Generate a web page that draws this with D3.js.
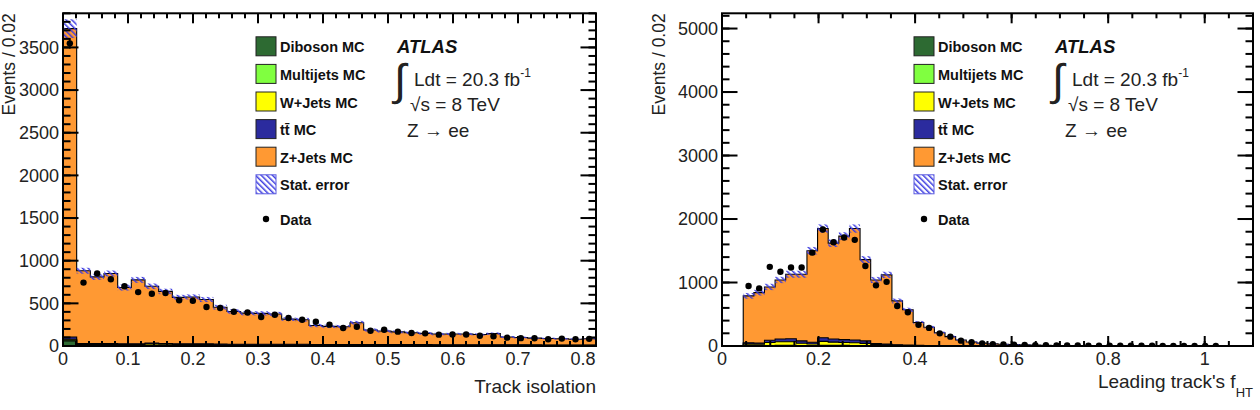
<!DOCTYPE html>
<html><head><meta charset="utf-8">
<script src="https://cdn.jsdelivr.net/npm/d3@7"></script>
<style>
body{margin:0;background:#fff}
svg{display:block}
text{font-family:"Liberation Sans",Arial,Helvetica,sans-serif}
</style>
</head><body>
<svg id="c" width="1260" height="410"></svg>
<script>
// ---------------- DATA ----------------
// Left panel: Track isolation, 39 bins over [0, 0.82]
const isoRange = [0, 0.82];
const isoNBins = 39;
const isoXTicks = [0, 0.1, 0.2, 0.3, 0.4, 0.5, 0.6, 0.7, 0.8];
const isoYTicks = [0, 500, 1000, 1500, 2000, 2500, 3000, 3500];
const isoDiboson  = [60,5,5,5,5,5,5,5,5,5,5,4,4,4,4,4,4,4,4,4,4,3,3,3,3,3,3,3,3,3,3,3,3,3,3,2,2,2,2];
const isoMultijet = [10,3,3,3,3,3,3,3,3,3,3,2,2,2,2,2,2,2,2,2,2,2,2,2,2,2,2,2,2,2,2,2,2,2,2,1,1,1,1];
const isoWjets    = [10,8,8,8,8,8,15,12,8,8,8,6,6,6,6,6,6,6,5,5,5,5,5,5,5,5,5,5,4,4,4,4,4,4,4,4,4,4,4];
const isoTtbar    = [25,12,12,12,11,11,11,10,10,10,10,10,9,9,9,8,8,8,7,7,7,6,6,6,6,6,6,5,5,5,5,5,5,5,4,4,4,4,4];
const isoZjets    = [3615,854,782,822,658,748,666,610,544,549,519,433,384,364,362,355,295,288,222,212,208,257,171,159,149,139,132,125,126,126,121,131,91,86,79,77,74,69,74];
const isoStatErr  = [110,35,35,35,35,35,33,32,30,30,30,28,26,25,25,25,22,22,20,20,20,22,18,17,16,15,15,14,14,14,13,14,12,11,11,10,10,10,10];
const isoData     = [3548,743,849,783,701,632,613,621,535,531,457,445,402,392,340,367,328,308,285,250,211,226,179,191,168,152,148,133,135,134,121,115,98,92,90,80,87,79,84];

// Right panel: Leading track's f_HT, 50 bins over [0, 1.1]
const fhtRange = [0, 1.1];
const fhtNBins = 50;
const fhtXTicks = [0, 0.2, 0.4, 0.6, 0.8, 1];
const fhtYTicks = [0, 1000, 2000, 3000, 4000, 5000];
const fhtDiboson  = [0,0,3,3,5,6,6,5,4,7,6,6,5,4,3,2,2,1,1,0,0,0,0,0,0,0,0,0,0,0,0,0,0,0,0,0,0,0,0,0,0,0,0,0,0,0,0,0,0,0];
const fhtMultijet = [0,0,2,2,4,5,5,3,3,6,5,5,4,3,2,2,1,1,1,0,0,0,0,0,0,0,0,0,0,0,0,0,0,0,0,0,0,0,0,0,0,0,0,0,0,0,0,0,0,0];
const fhtWjets    = [0,0,25,22,45,55,55,35,25,60,50,45,42,35,18,12,8,6,4,0,0,0,0,0,0,0,0,0,0,0,0,0,0,0,0,0,0,0,0,0,0,0,0,0,0,0,0,0,0,0];
const fhtTtbar    = [0,0,20,18,36,44,49,37,28,57,49,44,44,38,17,14,9,7,4,0,0,0,0,0,0,0,0,0,0,0,0,0,0,0,0,0,0,0,0,0,0,0,0,0,0,0,0,0,0,0];
const fhtZjets    = [0,0,740,795,840,930,1015,1050,1440,1720,1510,1630,1755,1280,1000,1090,690,555,360,295,208,148,94,64,45,34,27,21,17,14,11,9,8,7,6,5,4,3,3,2,2,1,1,1,1,0,0,0,0,0];
const fhtStatErr  = [0,0,45,45,50,50,55,55,60,65,60,62,65,55,48,50,38,33,25,22,18,15,12,10,8,7,6,5,5,4,4,3,3,3,3,2,2,2,2,2,2,1,1,1,1,0,0,0,0,0];
const fhtData     = [0,0,945,907,1247,1169,1237,1237,1470,1834,1635,1709,1672,1260,955,1010,629,532,335,285,199,147,84,58,42,30,24,20,16,13,11,9,8,8,6,5,5,4,4,3,3,2,2,2,1,1,1,0,0,0];

const legendLabels = ["Diboson MC", "Multijets MC", "W+Jets MC", "tt\u0304 MC", "Z+Jets MC"];
const statLabel = "Stat. error";
const dataLabel = "Data";
const compKeys = ["diboson", "multijet", "wjets", "ttbar", "zjets"];
const compColors = ["#2d6a32", "#80ff40", "#ffff00", "#2b2b9e", "#ff9933"];

// ---------------- DRAW ----------------
const svg = d3.select("#c");
const defs = svg.append("defs");
const pat = defs.append("pattern").attr("id", "hatch").attr("patternUnits", "userSpaceOnUse")
  .attr("width", 4).attr("height", 4).attr("patternTransform", "rotate(-45)");
pat.append("rect").attr("x", 0).attr("y", 0).attr("width", 1.5).attr("height", 4).attr("fill", "#3c3ce0");

const panels = [
  {id: "iso", x0: 63, x1: 596, y0: 13.3, y1: 346, range: isoRange, nb: isoNBins, yMax: 3900,
   xTicks: isoXTicks, xMinorStep: 0.02, yTicks: isoYTicks, yMinorStep: 100,
   comps: [isoDiboson, isoMultijet, isoWjets, isoTtbar, isoZjets], err: isoStatErr, data: isoData,
   xTitle: "Track isolation", xTitleY: 393, legX: 256, atlasX: 397, yTitleX: 15},
  {id: "fht", x0: 722, x1: 1253, y0: 13.3, y1: 346, range: fhtRange, nb: fhtNBins, yMax: 5240,
   xTicks: fhtXTicks, xMinorStep: 0.05, yTicks: fhtYTicks, yMinorStep: 200,
   comps: [fhtDiboson, fhtMultijet, fhtWjets, fhtTtbar, fhtZjets], err: fhtStatErr, data: fhtData,
   xTitle: "Leading track's f", xSub: "HT", xTitleY: 388, legX: 914, atlasX: 1055, yTitleX: 665}
];

panels.forEach(p => {
  const x = d3.scaleLinear().domain(p.range).range([p.x0, p.x1]);
  const y = d3.scaleLinear().domain([0, p.yMax]).range([p.y1, p.y0]);
  const bw = (p.range[1] - p.range[0]) / p.nb;
  const edges = d3.range(p.nb + 1).map(i => p.range[0] + i * bw);

  defs.append("clipPath").attr("id", "clip-" + p.id).append("rect")
    .attr("x", p.x0).attr("y", p.y0).attr("width", p.x1 - p.x0).attr("height", p.y1 - p.y0);
  const g = svg.append("g").attr("clip-path", `url(#clip-${p.id})`);

  const rows = d3.range(p.nb).map(i => {
    const r = {i};
    compKeys.forEach((k, j) => r[k] = p.comps[j][i]);
    return r;
  });
  const series = d3.stack().keys(compKeys)(rows);
  const totals = rows.map(r => d3.sum(compKeys, k => r[k]));

  const area = d3.area()
    .x(d => x(d.e)).y0(d => y(d.lo)).y1(d => y(d.hi))
    .curve(d3.curveStepAfter);

  for (let k = series.length - 1; k >= 0; k--) {
    const s = series[k];
    const pts = edges.map((e, i) => {
      const idx = Math.min(i, p.nb - 1);
      return {e, lo: 0, hi: s[idx][1]};
    });
    g.append("path").attr("d", area(pts)).attr("fill", compColors[k])
      .attr("stroke", "#000").attr("stroke-width", 1.1);
  }

  g.selectAll("rect.err").data(rows.filter(r => p.err[r.i] > 0)).join("rect")
    .attr("class", "err")
    .attr("x", r => x(edges[r.i])).attr("width", r => x(edges[r.i + 1]) - x(edges[r.i]))
    .attr("y", r => y(totals[r.i] + p.err[r.i]))
    .attr("height", r => y(totals[r.i] - p.err[r.i]) - y(totals[r.i] + p.err[r.i]))
    .attr("fill", "url(#hatch)");

  const pd = rows.filter(r => p.data[r.i] > 0);
  g.selectAll("line.eb").data(pd).join("line").attr("class", "eb")
    .attr("x1", r => x(edges[r.i] + bw / 2)).attr("x2", r => x(edges[r.i] + bw / 2))
    .attr("y1", r => y(p.data[r.i] + Math.sqrt(p.data[r.i])))
    .attr("y2", r => y(Math.max(0, p.data[r.i] - Math.sqrt(p.data[r.i]))))
    .attr("stroke", "#000").attr("stroke-width", 1.5);
  g.selectAll("circle.dp").data(pd).join("circle").attr("class", "dp")
    .attr("cx", r => x(edges[r.i] + bw / 2)).attr("cy", r => y(p.data[r.i]))
    .attr("r", 3.2).attr("fill", "#000");

  // ticks as filled rects, inward on all four sides
  const xMinor = d3.range(p.range[0], p.range[1] + 1e-9, p.xMinorStep);
  const yMinor = d3.range(0, p.yMax + 1e-9, p.yMinorStep);
  const tw = 2;
  const tickRects = [];
  xMinor.forEach(v => { tickRects.push({x: x(v) - tw / 2, y: p.y1 - 5, w: tw, h: 5}, {x: x(v) - tw / 2, y: p.y0, w: tw, h: 5}); });
  p.xTicks.forEach(v => { tickRects.push({x: x(v) - tw / 2, y: p.y1 - 10, w: tw, h: 10}, {x: x(v) - tw / 2, y: p.y0, w: tw, h: 10}); });
  yMinor.forEach(v => { tickRects.push({x: p.x0, y: y(v) - tw / 2, w: 7.5, h: tw}, {x: p.x1 - 7.5, y: y(v) - tw / 2, w: 7.5, h: tw}); });
  p.yTicks.forEach(v => { tickRects.push({x: p.x0, y: y(v) - tw / 2, w: 15.5, h: tw}, {x: p.x1 - 15.5, y: y(v) - tw / 2, w: 15.5, h: tw}); });
  svg.append("g").attr("class", "ticks-" + p.id).selectAll("rect").data(tickRects).join("rect")
    .attr("x", d => d.x).attr("y", d => d.y).attr("width", d => d.w).attr("height", d => d.h)
    .attr("fill", "#000");

  // frame
  svg.append("rect").attr("x", p.x0).attr("y", p.y0).attr("width", p.x1 - p.x0).attr("height", p.y1 - p.y0)
    .attr("fill", "none").attr("stroke", "#000").attr("stroke-width", 2);

  // tick labels
  const tl = svg.append("g").attr("fill", "#222").attr("font-size", 18);
  p.xTicks.forEach(v => {
    tl.append("text").attr("x", x(v)).attr("y", 365).attr("text-anchor", "middle").text(String(v));
  });
  p.yTicks.forEach(v => {
    tl.append("text").attr("x", p.x0 - 4).attr("y", y(v) + 6.4).attr("text-anchor", "end").text(String(v));
  });

  // axis titles
  const xt = svg.append("text").attr("x", p.x1).attr("y", p.xTitleY).attr("text-anchor", "end")
    .attr("font-size", 19).attr("fill", "#222");
  xt.append("tspan").text(p.xTitle);
  if (p.xSub) xt.append("tspan").attr("font-size", 13).attr("dy", 9).text(p.xSub);
  svg.append("text").attr("transform", `translate(${p.yTitleX},${p.y0}) rotate(-90)`)
    .attr("text-anchor", "end").attr("font-size", 17.5).attr("fill", "#222").text("Events / 0.02");

  // legend
  const lg = svg.append("g");
  const rowC = i => 46.3 + 27.6 * i;
  legendLabels.forEach((lab, i) => {
    lg.append("rect").attr("x", p.legX).attr("y", rowC(i) - 9.5).attr("width", 20).attr("height", 19)
      .attr("fill", compColors[i]).attr("stroke", "#222").attr("stroke-width", 1);
    lg.append("text").attr("x", p.legX + 24).attr("y", rowC(i) + 6).attr("font-size", 14.5)
      .attr("font-weight", "bold").attr("fill", "#111").text(lab);
  });
  lg.append("rect").attr("x", p.legX).attr("y", rowC(5) - 9.5).attr("width", 20).attr("height", 19)
    .attr("fill", "url(#hatch)").attr("stroke", "#5a5ae0").attr("stroke-width", 1);
  lg.append("text").attr("x", p.legX + 24).attr("y", rowC(5) + 6).attr("font-size", 14.5)
    .attr("font-weight", "bold").attr("fill", "#111").text(statLabel);
  lg.append("circle").attr("cx", p.legX + 10).attr("cy", 219).attr("r", 3.2).attr("fill", "#000");
  lg.append("text").attr("x", p.legX + 24).attr("y", 219 + 5.5).attr("font-size", 14.5)
    .attr("font-weight", "bold").attr("fill", "#111").text(dataLabel);

  // ATLAS label block
  const ab = svg.append("g").attr("fill", "#222");
  ab.append("text").attr("x", p.atlasX).attr("y", 53.3).attr("font-size", 18.5)
    .attr("font-weight", "bold").attr("font-style", "italic").attr("fill", "#111").text("ATLAS");
  ab.append("text").attr("x", p.atlasX - 3).attr("y", 95).attr("font-size", 44)
    .attr("font-family", "Liberation Serif").text("\u222B");
  const ld = ab.append("text").attr("x", p.atlasX + 17).attr("y", 86).attr("font-size", 19);
  ld.append("tspan").text("Ldt = 20.3 fb");
  ld.append("tspan").attr("font-size", 12).attr("dy", -9).text("-1");
  ab.append("text").attr("x", p.atlasX + 13).attr("y", 111).attr("font-size", 19).text("\u221As = 8 TeV");
  ab.append("text").attr("x", p.atlasX + 10).attr("y", 136.5).attr("font-size", 19).text("Z \u2192 ee");
});
</script>
</body></html>
